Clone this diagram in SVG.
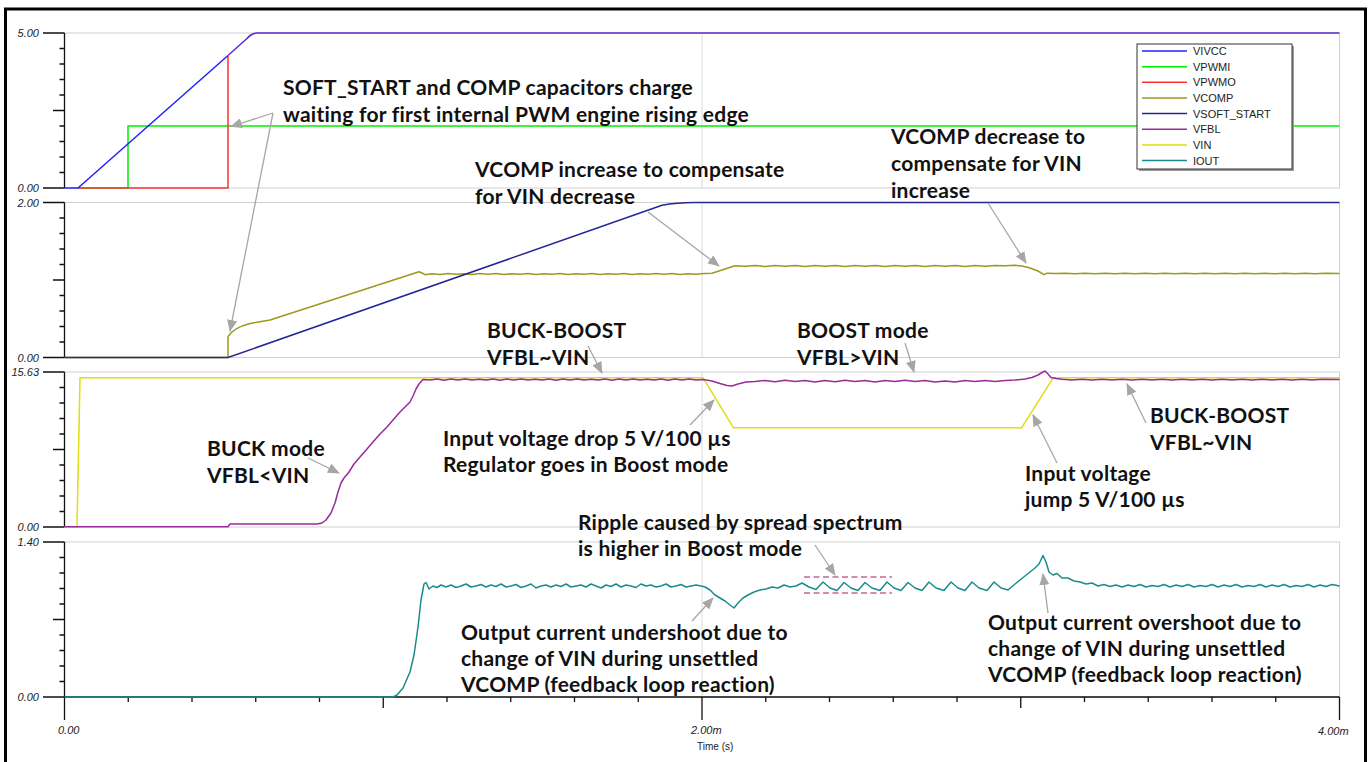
<svg xmlns="http://www.w3.org/2000/svg" width="1371" height="762" viewBox="0 0 1371 762">
<style>
.frame{fill:none;stroke:#000;stroke-width:3}
.panel{fill:none;stroke:#cfcfcf;stroke-width:1}
.grid{stroke:#dcdcdc;stroke-width:1}
.axis{fill:none;stroke:#111;stroke-width:1.3}
.ylab{font-family:"Liberation Sans",Arial,sans-serif;font-size:11px;font-style:italic;fill:#222;text-anchor:end}
.tlab{font-family:"Liberation Sans",Arial,sans-serif;font-size:11px;font-style:italic;fill:#222}
.leg{font-family:"Liberation Sans",Arial,sans-serif;font-size:11px;fill:#222}
.ann{font-family:Lato,"Noto Sans",sans-serif;font-size:21px;font-weight:bold;fill:#111;letter-spacing:0.25px}
.tr{fill:none;stroke-width:1.5;stroke-linejoin:round}
.arr{fill:none;stroke:#a6a6a6;stroke-width:1.3;marker-end:url(#ah)}
</style>
<defs>
<marker id="ah" viewBox="0 0 12 10" refX="11" refY="5" markerWidth="12" markerHeight="10" markerUnits="userSpaceOnUse" orient="auto">
<path d="M0,0 L12,5 L0,10 z" fill="#a6a6a6"/>
</marker>
</defs>
<rect width="1371" height="762" fill="#fff"/>
<rect class="frame" x="5.5" y="9" width="1360" height="760"/>

<g id="panels">
<rect class="panel" x="64.5" y="33" width="1275" height="155"/>
<rect class="panel" x="64.5" y="202.5" width="1275" height="155"/>
<rect class="panel" x="64.5" y="372" width="1275" height="155"/>
<rect class="panel" x="64.5" y="542" width="1275" height="155"/>
<path class="grid" d="M702,33V188M702,202.5V357.5M702,372V527M702,542V697"/>
</g>

<g id="y-axes">
<path class="axis" d="M64.5,33V188M43,33H64.5M43,188H64.5M53,110.5H64.5M59.5,48.5H64.5M59.5,64H64.5M59.5,79.5H64.5M59.5,95H64.5M59.5,126H64.5M59.5,141.5H64.5M59.5,157H64.5M59.5,172.5H64.5"/>
<path class="axis" d="M64.5,202.5V357.5M43,202.5H64.5M43,357.5H64.5M53,280H64.5M59.5,218H64.5M59.5,233.5H64.5M59.5,249H64.5M59.5,264.5H64.5M59.5,295.5H64.5M59.5,311H64.5M59.5,326.5H64.5M59.5,342H64.5"/>
<path class="axis" d="M64.5,372V527M43,372H64.5M43,527H64.5M53,449.5H64.5M59.5,387.5H64.5M59.5,403H64.5M59.5,418.5H64.5M59.5,434H64.5M59.5,465H64.5M59.5,480.5H64.5M59.5,496H64.5M59.5,511.5H64.5"/>
<path class="axis" d="M64.5,542V720M43,542H64.5M43,697H64.5M53,619.5H64.5M59.5,557.5H64.5M59.5,573H64.5M59.5,588.5H64.5M59.5,604H64.5M59.5,635H64.5M59.5,650.5H64.5M59.5,666H64.5M59.5,681.5H64.5"/>
<text class="ylab" x="39" y="37">5.00</text>
<text class="ylab" x="39" y="192">0.00</text>
<text class="ylab" x="39" y="206.5">2.00</text>
<text class="ylab" x="39" y="361.5">0.00</text>
<text class="ylab" x="39" y="376">15.63</text>
<text class="ylab" x="39" y="531">0.00</text>
<text class="ylab" x="39" y="546">1.40</text>
<text class="ylab" x="39" y="701">0.00</text>
</g>

<g id="x-axis">
<path class="axis" d="M64.5,697H1339.5M702,697V720M1339.5,697V720M383.25,697V708M1020.75,697V708M128.25,697V702M192,697V702M255.75,697V702M319.5,697V702M447,697V702M510.75,697V702M574.5,697V702M638.25,697V702M765.75,697V702M829.5,697V702M893.25,697V702M957,697V702M1084.5,697V702M1148.25,697V702M1212,697V702M1275.75,697V702"/>
<text class="tlab" x="58" y="734">0.00</text>
<text class="tlab" x="691" y="734">2.00m</text>
<text class="tlab" x="1318" y="735">4.00m</text>
<text class="leg" x="697" y="750" style="font-size:10px">Time (s)</text>
</g>

<g id="traces">
<path class="tr" stroke="#00ee00" d="M78,188H128V126H1339.5"/>
<path class="tr" stroke="#ff3030" d="M78,188H228V56"/>
<path class="tr" stroke="#2222ff" d="M64.5,188H78L228,55.5"/>
<path class="tr" stroke="#5a2ccc" d="M228,55.5L247,38.5Q251,33.5 257,33H1339.5"/>

<path class="tr" stroke="#9a9a1e" d="M64.5,357.5H228V336.7C232,330 240,326 250,323.5L270,320L419,271.7L422,273L425,274.7L432,273.8L440,274.4L448,273.6L456,274.3L464,273.7L472,274.5L480,273.6L488,274.2L496,273.5L504,274.4L512,273.7L520,274.3L528,273.5L536,274.4L544,273.7L552,274.2L560,273.6L568,274.5L576,273.7L584,274.3L592,273.5L600,274.4L608,273.8L616,274.2L624,273.6L632,274.4L640,273.7L648,274.3L656,273.6L664,274.2L672,273.5L680,274.4L688,273.7L696,274.2L704,273.6L712,273.3L722,270L735,265.7L745,266.3L755,265.5L765,266.4L775,265.6L785,266.3L795,265.4L805,266.5L815,265.6L825,266.2L835,265.4L845,266.4L855,265.6L865,266.3L875,265.5L885,266.4L895,265.6L905,266.2L915,265.4L925,266.5L935,265.6L945,266.3L955,265.5L965,266.4L975,265.6L985,266.2L995,265.4L1005,265.8L1015,265.3L1022,266L1030,268L1038,271L1044,274.7L1047,273.2L1055,273.6L1065,273.3L1075,273.8L1085,273.2L1095,273.7L1105,273.3L1115,273.8L1125,273.2L1135,273.7L1145,273.3L1155,273.8L1165,273.3L1175,273.7L1185,273.2L1195,273.8L1205,273.3L1215,273.7L1225,273.2L1235,273.8L1245,273.3L1255,273.7L1265,273.3L1275,273.8L1285,273.2L1295,273.7L1305,273.3L1315,273.8L1325,273.3L1339.5,273.5"/>
<path class="tr" stroke="#262696" d="M64.5,357.5H228L662,205.3Q676,202.5 695,202.5H1339.5"/>

<path class="tr" stroke="#dede10" d="M64.5,527H77L80,377.7H703L733.3,427.7H1021.7L1053.3,377.7H1339.5"/>
<path class="tr" stroke="#9b2a9b" d="M64.5,526.7H228L230,524H317L322,523L326,520L331,513L335,503L338,492L341,483L344,478L349,472L354,464L360,457L367,449L373,442L380,434L387,427L393,420L400,412L405,407L410,402L413,396L416,389L419,384L423,379.5L430,380L437,379L444,380.2L451,379.1L458,379.9L465,379L472,380.1L479,379.2L486,380L493,379L500,380.2L507,379.1L514,379.9L521,379L528,380.1L535,379.2L542,380L549,379L556,380.2L563,379.1L570,379.9L577,379L584,380.1L591,379.2L598,380L605,379L612,380.2L619,379.1L626,379.9L633,379L640,380.1L647,379.2L654,380L661,379L668,380.2L675,379.1L682,379.9L689,379L696,380L703,379.5L712,381L720,383.5L727,385.5L732,386L738,384L746,382L755,381.5L765,380.5L775,381.8L785,380.3L795,381.6L805,380.5L815,382L825,380.5L835,381.7L845,380.2L855,381.6L865,380.5L875,382L885,380.5L895,381.6L905,380.2L915,381.6L925,380.5L935,382L945,381L955,382L965,380.5L975,381.6L985,380.5L995,381.5L1005,380.5L1015,380L1025,379L1032,377.5L1038,375L1042,372.5L1045,371L1048,374L1051,377.5L1056,378.5L1062,379.3L1072,380L1082,379.2L1092,380.1L1102,379.3L1112,380L1122,379.2L1132,380.1L1142,379.3L1152,380L1162,379.2L1172,380.1L1182,379.3L1192,380L1202,379.2L1212,380.1L1222,379.3L1232,380L1242,379.2L1252,380.1L1262,379.3L1272,380L1282,379.2L1292,380.1L1302,379.3L1312,380L1322,379.2L1339.5,379.6"/>

<path class="tr" stroke="#1a8c8c" stroke-width="2.4" d="M64.5,697H393L397,695L403,688L410,672L414,655L418,627L421,600L424,584L426,582.5L429,589L433,586L437,587.5L441,585L446,587L451,585L456,587.5L461,586L466,584L471,587L476,586L481,584.5L486,587L491,585L496,586.5L501,584L506,587L511,586L516,584.5L521,587.5L526,586L531,584L536,588L541,586L546,585L551,587L556,585L561,586.5L566,584L571,587L576,586L581,585L586,587L591,584L596,586L601,588L606,585L611,586.5L616,584L621,587L626,585L631,586L636,587.5L641,584L646,586L651,585L656,587L661,586L666,584L671,587L676,586L681,584.5L686,587L691,586L696,585L701,586L705,587L710,590L715,595L720,598L725,601L730,605L734,608L738,603L743,598L748,595L754,592L760,590L766,589L772,587L778,588L784,585L790,587L796,586L802,583L809,587L816,589.5L823,582L830,588L837,590.5L844,582.5L851,588L858,590.5L865,582.5L872,588L880,590.5L887,582L894,588L901,590.5L908,582.5L915,588L922,590.5L929,582L936,588L944,590.5L951,582L958,588L965,590.5L972,582L979,588L987,590.5L994,582L1001,588L1008,590L1015,584L1020,580L1025,576L1030,572L1035,568L1039,564L1043,555.5L1046,562L1049,572L1053,575L1057,573.5L1062,578L1068,578L1074,581L1080,582L1086,584L1092,583L1098,586L1104,584.5L1110,586.5L1116,585L1122,587L1128,585L1134,586.5L1140,584.5L1146,587L1152,585.5L1158,586.5L1164,584.5L1170,587L1176,585L1182,586.5L1188,584.5L1194,587L1200,585.5L1206,586.5L1212,584.5L1218,587L1224,585L1230,586.5L1236,584.5L1242,587L1248,585.5L1254,586.5L1260,584.5L1266,587L1272,585L1278,586.5L1284,584.5L1290,587L1296,585.5L1302,586.5L1308,584.5L1314,587L1320,585L1326,586.5L1332,584.5L1339.5,586"/>
<path d="M804,577H892M804,593H892" stroke="#c86496" stroke-width="1.3" stroke-dasharray="6,3.5" fill="none"/>
</g>

<g id="legend">
<rect x="1139" y="46" width="155" height="125" fill="#9a9a9a"/>
<rect x="1137" y="44" width="155" height="125" fill="#fff" stroke="#333" stroke-width="1"/>
<path d="M1142,51H1187" stroke="#2222ff" stroke-width="1.5"/>
<path d="M1142,66.7H1187" stroke="#00ee00" stroke-width="1.5"/>
<path d="M1142,82.3H1187" stroke="#ff3030" stroke-width="1.5"/>
<path d="M1142,98H1187" stroke="#9a9a1e" stroke-width="1.5"/>
<path d="M1142,113.6H1187" stroke="#262696" stroke-width="1.5"/>
<path d="M1142,129.3H1187" stroke="#9b2a9b" stroke-width="1.5"/>
<path d="M1142,145H1187" stroke="#dede10" stroke-width="1.5"/>
<path d="M1142,160.6H1187" stroke="#1a8c8c" stroke-width="1.5"/>
<text class="leg" x="1193" y="55">VIVCC</text>
<text class="leg" x="1193" y="70.7">VPWMI</text>
<text class="leg" x="1193" y="86.3">VPWMO</text>
<text class="leg" x="1193" y="102">VCOMP</text>
<text class="leg" x="1193" y="117.6">VSOFT_START</text>
<text class="leg" x="1193" y="133.3">VFBL</text>
<text class="leg" x="1193" y="149">VIN</text>
<text class="leg" x="1193" y="164.6">IOUT</text>
</g>

<g id="connectors">
<path class="arr" d="M273,113L231,126.5"/>
<path class="arr" d="M273,113L230,331"/>
<path class="arr" d="M648,212L719,266"/>
<path class="arr" d="M988,203L1026,263"/>
<path class="arr" d="M588,346L602,373"/>
<path class="arr" d="M905,343L914,372"/>
<path class="arr" d="M308,458L339,473"/>
<path class="arr" d="M690,425L714,400"/>
<path class="arr" d="M1057,463L1033,415"/>
<path class="arr" d="M1146,423L1127,384"/>
<path class="arr" d="M815,545L835,575"/>
<path class="arr" d="M692,621L713,598"/>
<path class="arr" d="M1048,613L1043,574"/>
</g>

<g id="ann-softstart"><text class="ann" x="283" y="95">SOFT_START and COMP capacitors charge</text><text class="ann" x="283" y="122">waiting for first internal PWM engine rising edge</text></g>
<g id="ann-vcomp-inc"><text class="ann" x="475" y="177">VCOMP increase to compensate</text><text class="ann" x="475" y="204">for VIN decrease</text></g>
<g id="ann-vcomp-dec"><text class="ann" x="891" y="144">VCOMP decrease to</text><text class="ann" x="891" y="171">compensate for VIN</text><text class="ann" x="891" y="198">increase</text></g>
<g id="ann-buckboost1"><text class="ann" x="487" y="338">BUCK-BOOST</text><text class="ann" x="487" y="365">VFBL~VIN</text></g>
<g id="ann-boost"><text class="ann" x="797" y="338">BOOST mode</text><text class="ann" x="797" y="365">VFBL&gt;VIN</text></g>
<g id="ann-buck"><text class="ann" x="207" y="456">BUCK mode</text><text class="ann" x="207" y="483">VFBL&lt;VIN</text></g>
<g id="ann-drop"><text class="ann" x="443" y="446">Input voltage drop 5 V/100 µs</text><text class="ann" x="443" y="472">Regulator goes in Boost mode</text></g>
<g id="ann-jump"><text class="ann" x="1025" y="481">Input voltage</text><text class="ann" x="1025" y="507">jump 5 V/100 µs</text></g>
<g id="ann-buckboost2"><text class="ann" x="1150" y="423">BUCK-BOOST</text><text class="ann" x="1150" y="450">VFBL~VIN</text></g>
<g id="ann-ripple"><text class="ann" x="578" y="530">Ripple caused by spread spectrum</text><text class="ann" x="578" y="556">is higher in Boost mode</text></g>
<g id="ann-undershoot"><text class="ann" x="461" y="640">Output current undershoot due to</text><text class="ann" x="461" y="666">change of VIN during unsettled</text><text class="ann" x="461" y="692">VCOMP (feedback loop reaction)</text></g>
<g id="ann-overshoot"><text class="ann" x="988" y="630">Output current overshoot due to</text><text class="ann" x="988" y="656">change of VIN during unsettled</text><text class="ann" x="988" y="682">VCOMP (feedback loop reaction)</text></g>
</svg>
